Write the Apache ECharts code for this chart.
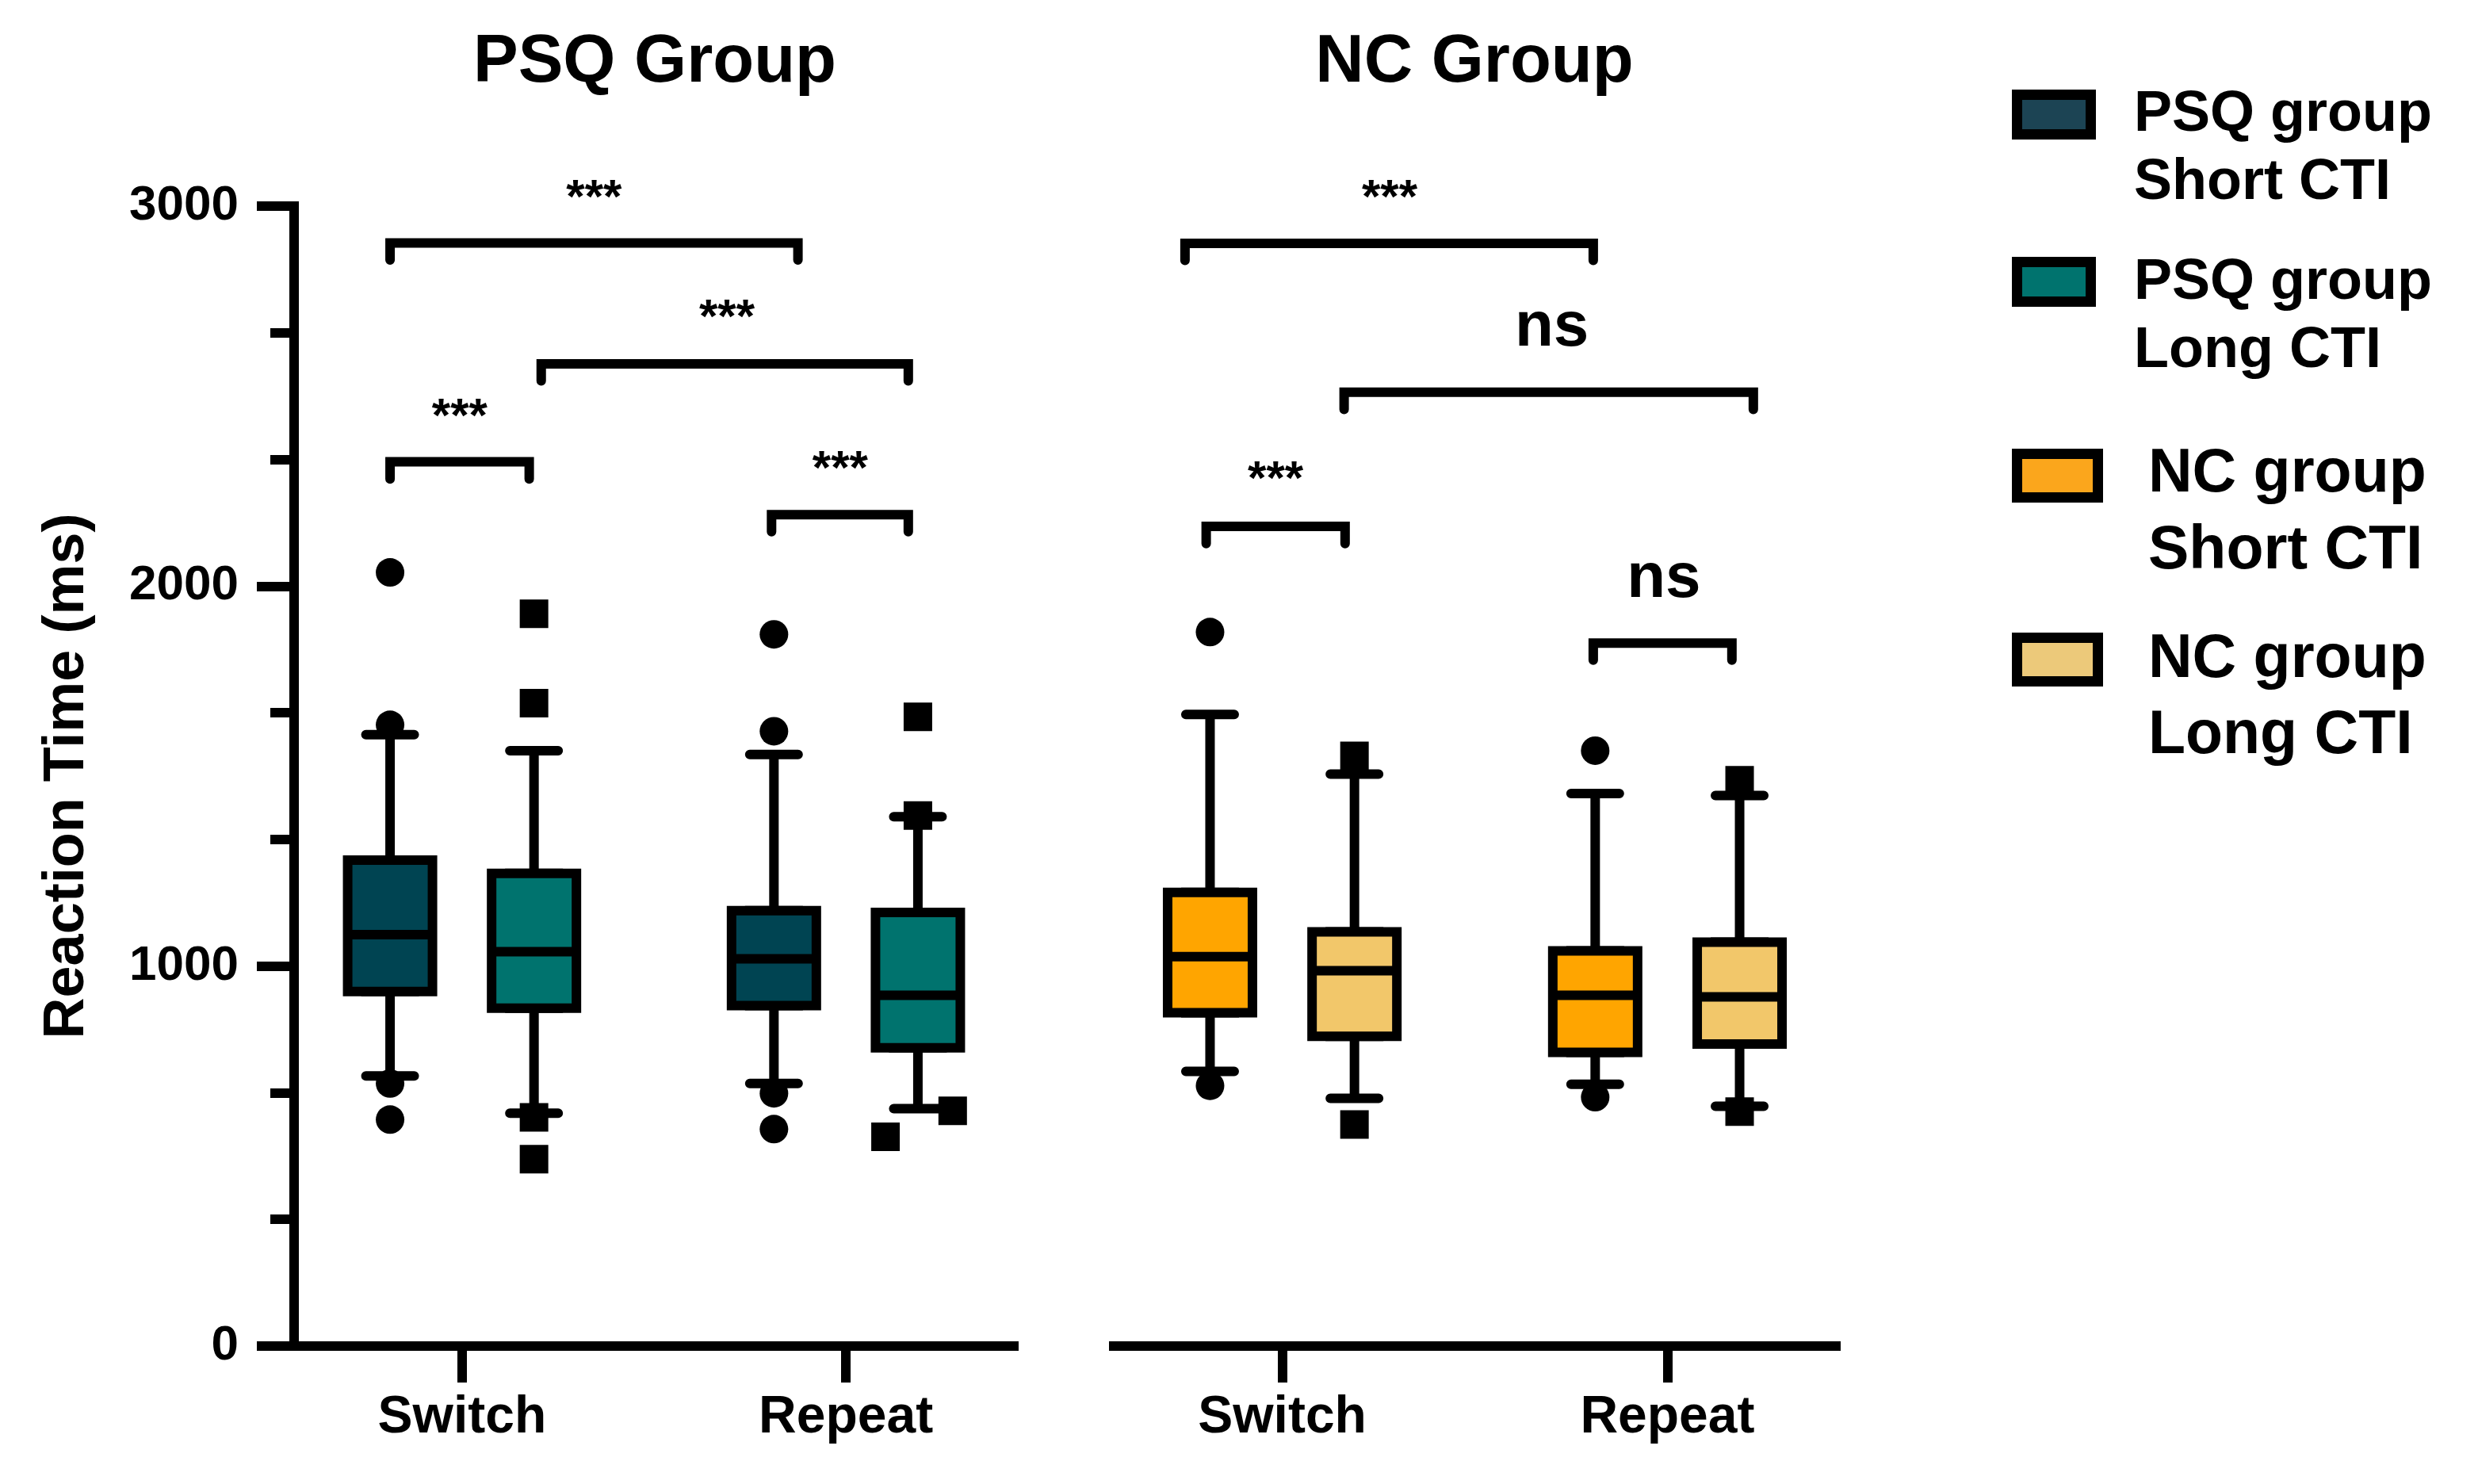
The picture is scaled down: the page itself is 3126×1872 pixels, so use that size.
<!DOCTYPE html>
<html><head><meta charset="utf-8">
<script src="https://cdn.jsdelivr.net/npm/echarts@6/dist/echarts.min.js"></script>
<style>html,body{margin:0;padding:0;background:#fff}#chart{width:3126px;height:1872px}</style>
</head><body><div id="chart"></div>
<script>
// ---------- data ----------
const panelTitles = ['PSQ Group', 'NC Group'];
const conditions = ['Switch', 'Repeat'];
const legendNames = ['PSQ group\nShort CTI', 'PSQ group\nLong CTI', 'NC group\nShort CTI', 'NC group\nLong CTI'];
const yTicks = [0, 1000, 2000, 3000];
// box stats per condition [Switch, Repeat]: [lower whisker, Q1, median, Q3, upper whisker]
const psqShort = [[711, 933, 1083, 1279, 1609], [691, 896, 1019, 1146, 1557]];
const psqLong  = [[613, 889, 1038, 1244, 1567], [625, 785, 923, 1141, 1393]];
const ncShort  = [[723, 877, 1025, 1194, 1662], [689, 773, 923, 1040, 1454]];
const ncLong   = [[652, 815, 988, 1090, 1505], [631, 795, 919, 1063, 1449]];
// outliers per condition [Switch, Repeat]
const psqShortOut = [[2036, 1635, 691, 596], [1873, 1618, 665, 571]];
const psqLongOut  = [[1927, 1692, 602, 492], [1656, 1396, 619, 551]];
const ncShortOut  = [[1879, 685], [1567, 655]];
const ncLongOut   = [[1553, 583], [1489, 617]];
// horizontal spread of outlier points (x-axis units)
const psqLongOutSpread = [[0, 0, 0, 0], [0, 0, 1.45, -1.35]];
// significance brackets: [x from, x to, height in ms] (x in axis units 0-30)
const psqBrackets = [[4, 21, 2903], [10.3, 25.6, 2585], [4, 9.8, 2327], [19.9, 25.6, 2188]];
const ncBrackets  = [[2.96, 19.92, 2902], [9.57, 26.57, 2510], [3.84, 9.61, 2157], [19.92, 25.68, 1850]];
const psqMarks = [['***', 12.5, 3048], ['***', 18.04, 2731], ['***', 6.9, 2471], ['***', 22.76, 2333]];
const ncMarks  = [['***', 11.46, 3048], ['ns', 18.2, 2670], ['***', 6.72, 2307], ['ns', 22.85, 2009]];

// ---------- styling / layout ----------
const FONT = 'Liberation Sans, Arial, Helvetica, sans-serif';
const fills = ['#004452', '#00736e', '#ffa500', '#f2c76a'];
const legendFills = ['#1c4454', '#00736e', '#fba61c', '#ecc97a'];
const boxSlot = [[4, 10], [20, 26]];   // [condition][short, long]
const tickSlot = [7, 23];
const LW = 12;
const DROP = 45;

function xAxisVisible(grid) {
  return {
    type: 'value', gridIndex: grid, min: 0, max: 30,
    axisLine: { show: true, onZero: false, lineStyle: { color: '#000', width: LW, cap: 'square' } },
    axisTick: { show: true, customValues: tickSlot, length: 46, lineStyle: { color: '#000', width: LW } },
    axisLabel: {
      show: true, customValues: tickSlot, margin: 58,
      formatter: v => conditions[tickSlot.indexOf(v)] || '',
      fontFamily: FONT, fontWeight: 'bold', fontSize: 66, color: '#000'
    },
    splitLine: { show: false }
  };
}
function xAxisHidden(grid) {
  return { type: 'value', gridIndex: grid, min: 0, max: 30, show: false };
}

function panelSeries(p, sStats, lStats, sOut, lOut, lSpread, brackets, marks, sFill, lFill) {
  const visX = 2 * p, hidX = 2 * p + 1;
  const series = [];
  const whiskerData = [], boxData = [], circles = [], squares = [];
  for (let c = 0; c < 2; c++) {
    const xs = boxSlot[c][0], xl = boxSlot[c][1];
    whiskerData.push([xs, ...sStats[c]], [xl, ...lStats[c]]);
    const s = sStats[c], l = lStats[c];
    boxData.push({ value: [xs, s[1], s[1], s[2], s[3], s[3]], itemStyle: { color: sFill } });
    boxData.push({ value: [xl, l[1], l[1], l[2], l[3], l[3]], itemStyle: { color: lFill } });
    sOut[c].forEach(v => circles.push([xs, v]));
    lOut[c].forEach((v, i) => squares.push([xl + (lSpread ? lSpread[c][i] : 0), v]));
  }
  series.push({
    type: 'boxplot', xAxisIndex: hidX, yAxisIndex: p, z: 2, silent: true,
    boxWidth: [61, 61], data: whiskerData,
    itemStyle: { color: '#000', borderColor: '#000', borderWidth: LW, borderCap: 'round' },
    emphasis: { disabled: true }
  });
  series.push({
    type: 'boxplot', xAxisIndex: visX, yAxisIndex: p, z: 3, silent: true,
    boxWidth: [107, 107], data: boxData,
    itemStyle: { borderColor: '#000', borderWidth: LW },
    emphasis: { disabled: true }
  });
  series.push({
    type: 'scatter', xAxisIndex: visX, yAxisIndex: p, z: 4, silent: true, clip: false,
    symbol: 'circle', symbolSize: 36, itemStyle: { color: '#000', opacity: 1 }, data: circles
  });
  series.push({
    type: 'scatter', xAxisIndex: visX, yAxisIndex: p, z: 4, silent: true, clip: false,
    symbol: 'rect', symbolSize: 36, itemStyle: { color: '#000', opacity: 1 }, data: squares
  });
  brackets.forEach(b => {
    series.push({
      type: 'line', xAxisIndex: visX, yAxisIndex: p, z: 5, silent: true, clip: false,
      symbol: 'none', animation: false,
      lineStyle: { color: '#000', width: LW, cap: 'round', join: 'miter' },
      data: [[b[0], b[2] - DROP], [b[0], b[2]], [b[1], b[2]], [b[1], b[2] - DROP]]
    });
  });
  series.push({
    type: 'scatter', xAxisIndex: visX, yAxisIndex: p, z: 6, silent: true, clip: false,
    symbol: 'circle', symbolSize: 1, itemStyle: { color: 'rgba(0,0,0,0)', opacity: 1 },
    data: marks.map(m => ({
      value: [m[1], m[2]], name: m[0],
      label: m[0] === 'ns'
        ? { fontSize: 80, offset: [0, -4] }
        : { fontSize: 60, offset: [0, 14] }
    })),
    label: {
      show: true, position: 'inside', formatter: '{b}', opacity: 1,
      fontFamily: FONT, fontWeight: 'bold', color: '#000'
    }
  });
  return series;
}

// legend as graphic
const legendLayout = [
  { rx: 2538, ry: 113, rw: 106, rh: 63, tx: 2692, ty: 145, fs: 72, lh: 86 },
  { rx: 2538, ry: 324, rw: 106, rh: 63, tx: 2692, ty: 357, fs: 72, lh: 86 },
  { rx: 2538, ry: 566, rw: 115, rh: 68, tx: 2710, ty: 599, fs: 77, lh: 97 },
  { rx: 2538, ry: 798, rw: 115, rh: 68, tx: 2710, ty: 833, fs: 77, lh: 96 }
];
const graphic = [];
legendNames.forEach((name, i) => {
  const L = legendLayout[i];
  graphic.push({
    type: 'rect', silent: true,
    shape: { x: L.rx + 6.5, y: L.ry + 6.5, width: L.rw - 13, height: L.rh - 13 },
    style: { fill: legendFills[i], stroke: '#000', lineWidth: 13 }
  });
  graphic.push({
    type: 'text', silent: true, x: L.tx, y: L.ty - L.lh / 2,
    style: {
      text: name, fill: '#000', font: 'bold ' + L.fs + 'px ' + FONT,
      lineHeight: L.lh, align: 'left', verticalAlign: 'top'
    }
  });
});

const option = {
  backgroundColor: '#fff',
  animation: false,
  title: [
    { text: panelTitles[0], left: 826, top: 80, textAlign: 'center', textVerticalAlign: 'middle', padding: 0,
      textStyle: { fontFamily: FONT, fontWeight: 'bold', fontSize: 85, color: '#000' } },
    { text: panelTitles[1], left: 1860, top: 80, textAlign: 'center', textVerticalAlign: 'middle', padding: 0,
      textStyle: { fontFamily: FONT, fontWeight: 'bold', fontSize: 85, color: '#000' } }
  ],
  grid: [
    { left: 371, top: 260, width: 908, height: 1438, containLabel: false },
    { left: 1405, top: 260, width: 911, height: 1438, containLabel: false }
  ],
  xAxis: [xAxisVisible(0), xAxisHidden(0), xAxisVisible(1), xAxisHidden(1)],
  yAxis: [
    {
      type: 'value', gridIndex: 0, min: yTicks[0], max: yTicks[yTicks.length - 1], interval: yTicks[1] - yTicks[0],
      name: 'Reaction Time (ms)', nameLocation: 'middle', nameRotate: 90, nameGap: 250,
      nameTextStyle: { fontFamily: FONT, fontWeight: 'bold', fontSize: 72, color: '#000' },
      axisLine: { show: true, lineStyle: { color: '#000', width: LW, cap: 'square' } },
      axisTick: { show: true, length: 47, lineStyle: { color: '#000', width: LW } },
      minorTick: { show: true, splitNumber: 3, length: 30, lineStyle: { color: '#000', width: LW } },
      axisLabel: { margin: 70, formatter: v => String(v), fontFamily: FONT, fontWeight: 'bold', fontSize: 62, color: '#000' },
      splitLine: { show: false }, minorSplitLine: { show: false }
    },
    { type: 'value', gridIndex: 1, min: yTicks[0], max: yTicks[yTicks.length - 1], show: false }
  ],
  graphic: graphic,
  series: [
    ...panelSeries(0, psqShort, psqLong, psqShortOut, psqLongOut, psqLongOutSpread, psqBrackets, psqMarks, fills[0], fills[1]),
    ...panelSeries(1, ncShort, ncLong, ncShortOut, ncLongOut, null, ncBrackets, ncMarks, fills[2], fills[3])
  ]
};
const chart = echarts.init(document.getElementById('chart'));
chart.setOption(option);
</script>
</body></html>
